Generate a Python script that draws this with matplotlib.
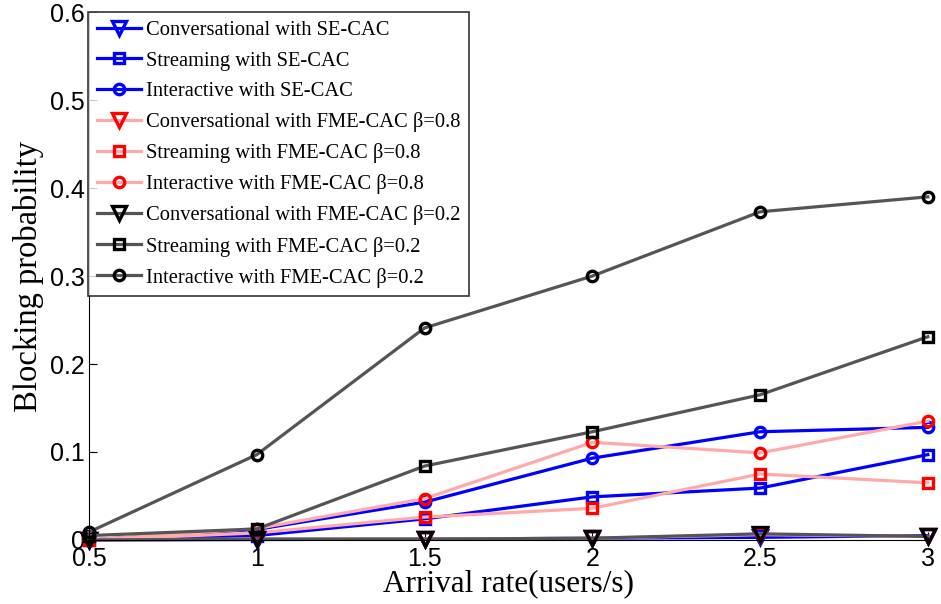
import matplotlib.pyplot as plt

rate = [0.5, 1, 1.5, 2, 2.5, 3]

conv_se = [0, 0.0005, 0.001, 0.002, 0.003, 0.005]
stream_se = [0, 0.005, 0.024, 0.049, 0.059, 0.097]
inter_se = [0, 0.012, 0.043, 0.093, 0.123, 0.128]

conv_08 = [0, 0.001, 0.001, 0.002, 0.006, 0.004]
stream_08 = [0, 0.008, 0.026, 0.036, 0.075, 0.065]
inter_08 = [0, 0.013, 0.047, 0.111, 0.099, 0.135]

conv_02 = [0, 0.001, 0.001, 0.002, 0.007, 0.004]
stream_02 = [0.005, 0.0125, 0.084, 0.123, 0.165, 0.231]
inter_02 = [0.009, 0.097, 0.241, 0.300, 0.373, 0.390]

fig = plt.figure(figsize=(9.41, 6.04), dpi=100)
ax = fig.add_axes([0.0946, 0.106, 0.8914, 0.874])

series = [
    (conv_se, 'v', '#0000ff', '#0000ff', 'Conversational with SE-CAC'),
    (stream_se, 's', '#0000ff', '#0000ff', 'Streaming with SE-CAC'),
    (inter_se, 'o', '#0000ff', '#0000ff', 'Interactive with SE-CAC'),
    (conv_08, 'v', '#ffaaaa', '#ff0000', 'Conversational with FME-CAC β=0.8'),
    (stream_08, 's', '#ffaaaa', '#ff0000', 'Streaming with FME-CAC β=0.8'),
    (inter_08, 'o', '#ffaaaa', '#ff0000', 'Interactive with FME-CAC β=0.8'),
    (conv_02, 'v', '#555555', '#000000', 'Conversational with FME-CAC β=0.2'),
    (stream_02, 's', '#555555', '#000000', 'Streaming with FME-CAC β=0.2'),
    (inter_02, 'o', '#555555', '#000000', 'Interactive with FME-CAC β=0.2'),
]
for vals, mk, lc, mc, lab in series:
    ms = 10 if mk == 'v' else 7.5
    ax.plot(rate, vals, color=lc, lw=2.3, marker=mk, ms=ms, mew=2.4,
            mec=mc, mfc='none', label=lab, clip_on=False)

ax.set_xlim(0.5, 3)
ax.set_ylim(0, 0.6)
ax.set_xticks(rate)
ax.set_xticklabels(['0.5', '1', '1.5', '2', '2.5', '3'])
ax.set_yticks([0, 0.1, 0.2, 0.3, 0.4, 0.5, 0.6])
ax.set_yticklabels(['0', '0.1', '0.2', '0.3', '0.4', '0.5', '0.6'])
ax.tick_params(direction='in', length=6, labelsize=18)
ax.tick_params(axis='x', pad=5)
ax.tick_params(axis='y', pad=3)
for t in ax.get_xticklabels() + ax.get_yticklabels():
    t.set_fontfamily('Liberation Sans')
ax.spines['top'].set_visible(False)
ax.spines['right'].set_visible(False)

ax.set_xlabel('Arrival rate(users/s)', fontsize=22.5, family='Liberation Serif', labelpad=-1)
ax.set_ylabel('Blocking probability', fontsize=23.5, family='Liberation Serif', labelpad=4)

leg = ax.legend(loc='upper left', bbox_to_anchor=(-0.001, 1.0), prop={'family': 'Liberation Serif', 'size': 14.8},
                frameon=True, fancybox=False, edgecolor='black', borderaxespad=0,
                handlelength=2.15, labelspacing=0.54, borderpad=0.42, handletextpad=0.25)
leg.get_frame().set_linewidth(1.2)

fig.savefig('out.png', dpi=100)
